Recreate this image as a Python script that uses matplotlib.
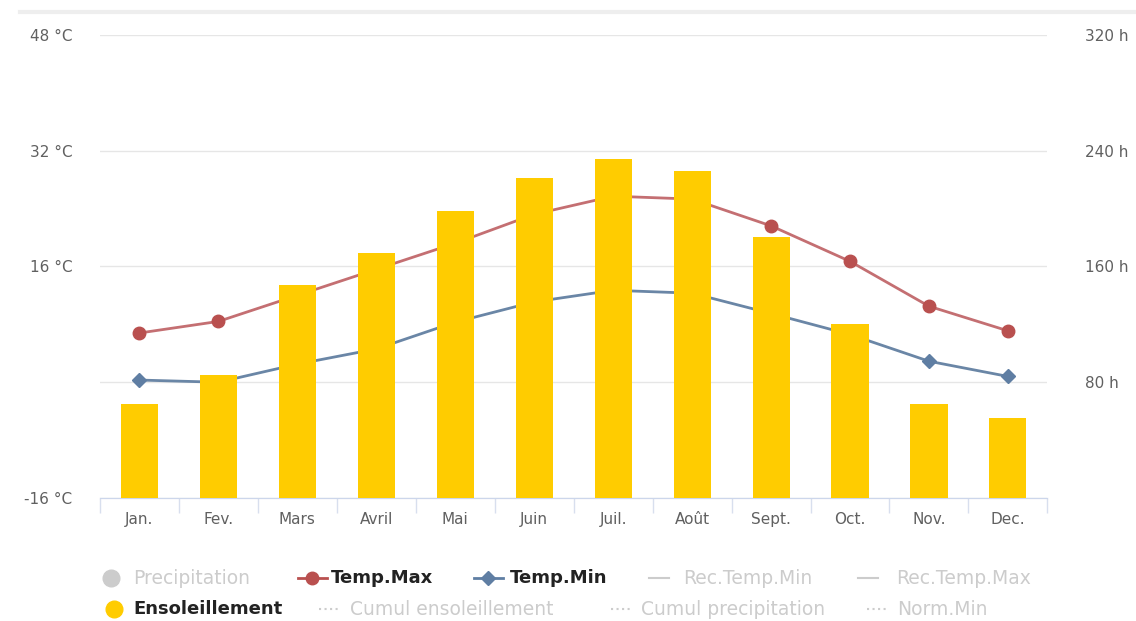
import numpy as np
import matplotlib.pyplot as plt
from matplotlib.lines import Line2D

# Monthly climate values
months = ['Jan.', 'Fev.', 'Mars', 'Avril', 'Mai', 'Juin',
          'Juil.', 'Août', 'Sept.', 'Oct.', 'Nov.', 'Dec.']
temp_max = [6.8, 8.4, 12.0, 15.6, 19.2, 23.2, 25.7, 25.3, 21.6, 16.7, 10.5, 7.1]
temp_min = [0.3, 0.0, 2.5, 4.6, 8.3, 11.1, 12.7, 12.3, 9.5, 6.6, 2.9, 0.8]
sunshine = [65, 85, 147, 169, 198, 221, 234, 226, 180, 120, 65, 55]

temp_ticks = [-16, 0, 16, 32, 48]
temp_labels = ['-16 °C', '', '16 °C', '32 °C', '48 °C']
sun_ticks = [0, 80, 160, 240, 320]
sun_labels = ['', '80 h', '160 h', '240 h', '320 h']

col_max = '#c46f72'
col_min = '#6a86a6'
col_sun = '#ffcc00'
col_text = '#606060'
col_off = '#cccccc'

fig = plt.figure(figsize=(11.36, 6.21), dpi=100)
ax = fig.add_axes([0.088, 0.198, 0.834, 0.746])
ax2 = ax.twinx()

x = np.arange(len(months))

# temperature lines (bars on the twin axis sit above them)
ax.plot(x, temp_max, color=col_max, lw=2, marker='o', ms=9,
        markerfacecolor='#b9504f', markeredgecolor='#b9504f', zorder=3)
ax.plot(x, temp_min, color=col_min, lw=2, marker='D', ms=7,
        markerfacecolor='#5f7ea3', markeredgecolor='#5f7ea3', zorder=3)

ax2.bar(x, sunshine, width=0.47, color=col_sun, zorder=3)

ax.set_xlim(-0.5, len(months) - 0.5)
ax.set_ylim(-16, 48)
ax2.set_ylim(0, 320)

ax.set_yticks(temp_ticks)
ax.set_yticklabels(temp_labels)
ax2.set_yticks(sun_ticks)
ax2.set_yticklabels(sun_labels)
ax.yaxis.grid(True, color='#e6e6e6', lw=1)
ax.set_axisbelow(True)

ax.tick_params(axis='y', length=0, pad=20, labelsize=11, labelcolor=col_text)
ax2.tick_params(axis='y', length=0, pad=27, labelsize=11, labelcolor=col_text)

ax.set_xticks(x)
ax.set_xticklabels(months)
ax.tick_params(axis='x', length=0, pad=10, labelsize=11, labelcolor=col_text)
ax.set_xticks(np.arange(-0.5, len(months)), minor=True)
ax.tick_params(axis='x', which='minor', length=11, color='#d8dfee', width=1)

for a in (ax, ax2):
    for side in ('top', 'left', 'right'):
        a.spines[side].set_visible(False)
    a.spines['bottom'].set_color('#ccd6eb')

# faint frame line across the top
fig.add_artist(Line2D([0.018, 1.0], [0.981, 0.981], color='#eeeeee', lw=3))


# legend, two rows along the bottom
def legend_item(x0, y, label, active, kind, color, tx):
    if kind == 'dot':
        fig.add_artist(Line2D([x0], [y], marker='o', ms=12, color=color, lw=0))
    elif kind in ('o', 'D'):
        fig.add_artist(Line2D([x0 - 0.013, x0 + 0.013], [y, y], color=color, lw=2))
        fig.add_artist(Line2D([x0], [y], marker=kind,
                              ms=9 if kind == 'o' else 7, color=color, lw=0))
    else:
        fig.add_artist(Line2D([x0 - 0.009, x0 + 0.009], [y, y], color=color,
                              lw=1.5, linestyle=kind))
    fig.text(tx, y, label, va='center', ha='left',
             fontsize=13 if active else 13.5,
             fontweight='bold' if active else 'normal',
             color='#222222' if active else col_off)


row1 = 0.069
row2 = 0.019
legend_item(0.098, row1, 'Precipitation', False, 'dot', col_off, 0.117)
legend_item(0.275, row1, 'Temp.Max', True, 'o', '#b9504f', 0.291)
legend_item(0.430, row1, 'Temp.Min', True, 'D', '#5f7ea3', 0.449)
legend_item(0.580, row1, 'Rec.Temp.Min', False, '-', col_off, 0.601)
legend_item(0.764, row1, 'Rec.Temp.Max', False, '-', col_off, 0.789)
legend_item(0.100, row2, 'Ensoleillement', True, 'dot', col_sun, 0.117)
legend_item(0.290, row2, 'Cumul ensoleillement', False, ':', col_off, 0.308)
legend_item(0.547, row2, 'Cumul precipitation', False, ':', col_off, 0.564)
legend_item(0.772, row2, 'Norm.Min', False, ':', col_off, 0.790)

fig.savefig('out.png', dpi=100, facecolor='white')
